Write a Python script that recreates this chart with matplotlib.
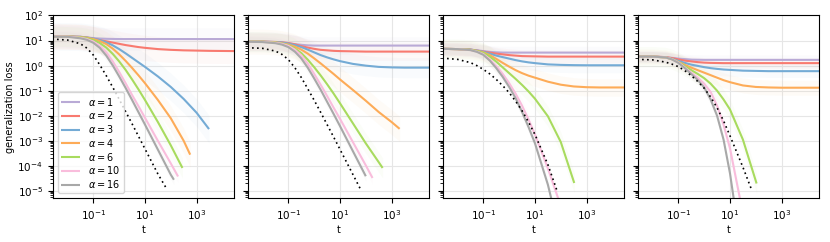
import numpy as np
import matplotlib
matplotlib.use('Agg')
import matplotlib.pyplot as plt
from matplotlib.ticker import LogLocator, NullFormatter, NullLocator

N = np.nan
alphas = [1, 2, 3, 4, 6, 10, 16]
colors = ['#b9aad6', '#f87a70', '#74abd5', '#fdab57', '#a8db5e', '#f9bddc', '#a8a8a8']
log_t = [-2.6, -2.0, -1.5, -1.25, -1.0, -0.75, -0.5, -0.25, 0.0, 0.25, 0.5, 0.75, 1.0,
         1.5, 2.0, 2.5, 3.0, 3.5, 4.0, 4.5]

# log10(generalization loss) on the log_t grid; NaN = curve has ended
panel1 = {
    1:  [1.17, 1.16, 1.14, 1.12, 1.10, 1.08, 1.07, 1.065, 1.06, 1.06, 1.06, 1.06, 1.06, 1.06, 1.06, 1.06, 1.06, 1.06, 1.06, 1.06],
    2:  [1.17, 1.16, 1.15, 1.12, 1.07, 1.02, 0.97, 0.92, 0.87, 0.82, 0.78, 0.74, 0.71, 0.66, 0.63, 0.61, 0.60, 0.59, 0.585, 0.58],
    3:  [1.17, 1.16, 1.15, 1.12, 1.08, 1.02, 0.93, 0.81, 0.66, 0.49, 0.31, 0.13, -0.05, -0.43, -0.85, -1.33, -1.88, N, N, N],
    4:  [1.17, 1.16, 1.14, 1.11, 1.06, 0.98, 0.86, 0.68, 0.45, 0.19, -0.09, -0.39, -0.70, -1.37, -2.10, -3.00, N, N, N, N],
    6:  [1.17, 1.16, 1.13, 1.09, 1.02, 0.90, 0.72, 0.47, 0.17, -0.17, -0.55, -0.95, -1.37, -2.25, -3.18, N, N, N, N, N],
    10: [1.17, 1.16, 1.11, 1.06, 0.96, 0.79, 0.53, 0.17, -0.25, -0.70, -1.17, -1.62, -2.08, -3.00, -3.90, N, N, N, N, N],
    16: [1.16, 1.15, 1.09, 1.03, 0.91, 0.71, 0.40, 0.01, -0.43, -0.89, -1.37, -1.86, -2.35, -3.35, -4.35, N, N, N, N, N],
}
panel1_end = {3: (3.48, -2.53), 4: (2.75, -3.55), 6: (2.45, -4.08), 10: (2.28, -4.42), 16: (2.12, -4.55)}
panel1_ref = [1.06, 1.02, 0.87, 0.70, 0.42, 0.03, -0.40, -0.86, -1.34, -1.83, -2.32, -2.82, -3.32, -4.32, N, N, N, N, N, N]
panel1_ref_end = (1.86, -4.95)
panel1_spread = [0.45, 0.5, 0.55, 0.5, 0.4, 0.25, 0.2]   # half-width (decades) of the faint cloud of runs

panel2 = {
    1:  [0.96, 0.955, 0.94, 0.92, 0.89, 0.86, 0.83, 0.81, 0.80, 0.80, 0.80, 0.80, 0.80, 0.80, 0.80, 0.80, 0.80, 0.80, 0.80, 0.80],
    2:  [0.96, 0.955, 0.945, 0.93, 0.90, 0.85, 0.78, 0.72, 0.67, 0.63, 0.61, 0.59, 0.58, 0.57, 0.56, 0.56, 0.56, 0.56, 0.56, 0.56],
    3:  [0.96, 0.955, 0.94, 0.92, 0.88, 0.82, 0.74, 0.64, 0.53, 0.42, 0.33, 0.25, 0.18, 0.07, 0.00, -0.05, -0.07, -0.08, -0.08, -0.08],
    4:  [0.96, 0.955, 0.93, 0.89, 0.84, 0.76, 0.64, 0.48, 0.29, 0.09, -0.12, -0.33, -0.55, -0.97, -1.40, -1.85, -2.25, N, N, N],
    6:  [0.96, 0.95, 0.92, 0.88, 0.81, 0.69, 0.50, 0.24, -0.06, -0.39, -0.74, -1.11, -1.50, -2.30, -3.10, -3.85, N, N, N, N],
    10: [0.955, 0.945, 0.91, 0.87, 0.79, 0.64, 0.41, 0.08, -0.33, -0.76, -1.21, -1.67, -2.12, -3.05, -3.98, N, N, N, N, N],
    16: [0.954, 0.94, 0.895, 0.84, 0.74, 0.56, 0.29, -0.08, -0.51, -0.96, -1.44, -1.92, -2.41, -3.41, N, N, N, N, N, N],
}
panel2_end = {4: (3.31, -2.52), 6: (2.65, -4.08), 10: (2.26, -4.48), 16: (2.00, -4.41)}
panel2_ref = [0.715, 0.69, 0.58, 0.45, 0.24, -0.08, -0.47, -0.92, -1.38, -1.86, -2.35, -2.84, -3.34, -4.34, N, N, N, N, N, N]
panel2_ref_end = (1.80, -4.94)
panel2_spread = [0.35, 0.35, 0.4, 0.5, 0.4, 0.25, 0.2]

panel3 = {
    1:  [0.67, 0.66, 0.64, 0.61, 0.58, 0.55, 0.53, 0.52, 0.52, 0.52, 0.52, 0.52, 0.52, 0.52, 0.52, 0.52, 0.52, 0.52, 0.52, 0.52],
    2:  [0.67, 0.66, 0.64, 0.60, 0.56, 0.52, 0.48, 0.45, 0.42, 0.40, 0.38, 0.375, 0.37, 0.36, 0.36, 0.36, 0.36, 0.36, 0.36, 0.36],
    3:  [0.67, 0.66, 0.64, 0.60, 0.55, 0.48, 0.40, 0.34, 0.28, 0.22, 0.17, 0.13, 0.10, 0.05, 0.03, 0.02, 0.015, 0.015, 0.015, 0.015],
    4:  [0.67, 0.66, 0.63, 0.59, 0.53, 0.42, 0.27, 0.11, -0.04, -0.18, -0.30, -0.40, -0.48, -0.64, -0.76, -0.83, -0.86, -0.87, -0.87, -0.87],
    6:  [0.67, 0.66, 0.63, 0.58, 0.51, 0.36, 0.16, -0.07, -0.30, -0.53, -0.77, -1.03, -1.32, -2.02, -3.05, N, N, N, N, N],
    10: [0.67, 0.66, 0.62, 0.56, 0.46, 0.25, -0.02, -0.33, -0.70, -1.12, -1.60, -2.15, -2.75, -4.10, -5.60, N, N, N, N, N],
    16: [0.67, 0.66, 0.62, 0.55, 0.43, 0.20, -0.10, -0.45, -0.85, -1.30, -1.85, -2.45, -3.10, -4.75, N, N, N, N, N, N],
}
panel3_end = {6: (2.52, -4.68), 16: (1.70, -5.60)}
panel3_ref = [0.30, 0.25, 0.12, 0.00, -0.15, -0.33, -0.55, -0.80, -1.08, -1.42, -1.80, -2.25, -2.75, -3.95, N, N, N, N, N, N]
panel3_ref_end = (1.84, -4.95)
panel3_spread = [0.25, 0.25, 0.3, 0.35, 0.4, 0.25, 0.2]

panel4 = {
    1:  [0.36, 0.36, 0.34, 0.31, 0.28, 0.26, 0.24, 0.235, 0.23, 0.23, 0.23, 0.23, 0.23, 0.23, 0.23, 0.23, 0.23, 0.23, 0.23, 0.23],
    2:  [0.36, 0.36, 0.34, 0.30, 0.25, 0.20, 0.17, 0.14, 0.12, 0.11, 0.105, 0.10, 0.10, 0.10, 0.10, 0.10, 0.10, 0.10, 0.10, 0.10],
    3:  [0.36, 0.36, 0.33, 0.27, 0.19, 0.11, 0.04, -0.01, -0.06, -0.10, -0.13, -0.155, -0.17, -0.20, -0.21, -0.22, -0.22, -0.22, -0.22, -0.22],
    4:  [0.36, 0.36, 0.33, 0.26, 0.15, 0.03, -0.08, -0.18, -0.28, -0.38, -0.48, -0.58, -0.66, -0.79, -0.85, -0.87, -0.88, -0.88, -0.88, -0.88],
    6:  [0.36, 0.36, 0.33, 0.26, 0.14, -0.02, -0.18, -0.33, -0.50, -0.72, -1.00, -1.35, -1.75, -2.95, N, N, N, N, N, N],
    10: [0.36, 0.36, 0.33, 0.26, 0.13, -0.07, -0.28, -0.48, -0.72, -1.05, -1.60, -2.35, -3.30, -5.90, N, N, N, N, N, N],
    16: [0.36, 0.36, 0.33, 0.25, 0.11, -0.10, -0.33, -0.57, -0.87, -1.35, -2.00, -2.95, -4.30, N, N, N, N, N, N, N],
}
panel4_end = {6: (2.03, -4.70), 16: (1.20, -5.70)}
panel4_ref = [0.25, 0.23, 0.14, 0.06, -0.04, -0.20, -0.40, -0.63, -0.90, -1.25, -1.68, -2.20, -2.80, -4.05, N, N, N, N, N, N]
panel4_ref_end = (1.84, -4.96)
panel4_spread = [0.2, 0.2, 0.25, 0.3, 0.4, 0.25, 0.2]

panels = [(panel1, panel1_end, panel1_ref, panel1_ref_end, panel1_spread),
          (panel2, panel2_end, panel2_ref, panel2_ref_end, panel2_spread),
          (panel3, panel3_end, panel3_ref, panel3_ref_end, panel3_spread),
          (panel4, panel4_end, panel4_ref, panel4_ref_end, panel4_spread)]

plt.rcParams['font.size'] = 7
fig, axes = plt.subplots(1, 4, figsize=(8.3, 2.42), dpi=100, sharey=True)
fig.subplots_adjust(left=0.0635, right=0.9871, bottom=0.1806, top=0.936, wspace=0.074)

def series(vals, end):
    lt = np.array(log_t)
    v = np.array(vals, dtype=float)
    m = ~np.isnan(v)
    x = list(lt[m]); y = list(v[m])
    if end is not None:
        x.append(end[0]); y.append(end[1])
    return np.array(x), np.array(y)

for ax, (data, ends, ref, ref_end, spread) in zip(axes, panels):
    # faint cloud of individual runs
    for a, c, s in zip(alphas, colors, spread):
        lx, ly = series(data[a], ends.get(a))
        ax.fill_between(10.0 ** lx, 10.0 ** (ly - s), 10.0 ** (ly + s),
                        color=c, alpha=0.045, lw=0)
    for a, c in zip(alphas, colors):
        lx, ly = series(data[a], ends.get(a))
        ax.plot(10.0 ** lx, 10.0 ** ly, color=c, lw=1.5, label=r'$\alpha = %d$' % a,
                solid_capstyle='butt', solid_joinstyle='round')
    lx, ly = series(ref, ref_end)
    ax.plot(10.0 ** lx, 10.0 ** ly, color='black', lw=1.2, ls=(0, (1, 2)))
    ax.set_xscale('log'); ax.set_yscale('log')
    ax.set_xlim(10 ** -2.574, 10 ** 4.458)
    ax.set_ylim(10 ** -5.29, 1e2)
    ax.set_xticks([1e-1, 1e1, 1e3])
    ax.xaxis.set_minor_locator(NullLocator())
    ax.yaxis.set_major_locator(LogLocator(base=10, numticks=20))
    ax.yaxis.set_minor_locator(LogLocator(base=10, subs=np.arange(2, 10), numticks=20))
    ax.yaxis.set_minor_formatter(NullFormatter())
    ax.grid(True, which='major', color='#e6e6e6', lw=0.8)
    ax.set_axisbelow(True)
    ax.set_xlabel('t', labelpad=2)
    ax.tick_params(labelsize=7.5)

axes[0].set_ylabel('generalization loss', labelpad=2)
axes[0].legend(loc='lower left', fontsize=7, handlelength=2, labelspacing=0.18,
               borderpad=0.35)
fig.savefig('out.png', dpi=100)
